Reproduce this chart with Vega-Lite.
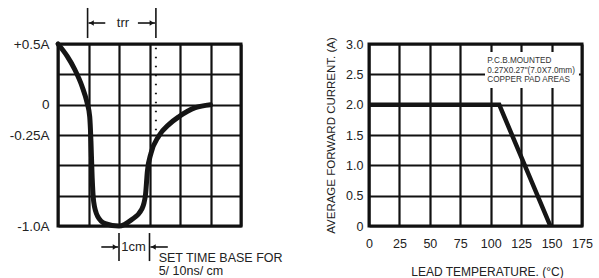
{
  "$schema": "https://vega.github.io/schema/vega-lite/v6.json",
  "background": "white",
  "padding": {"left": 7, "top": 5, "right": 0, "bottom": 0},
  "bounds": "flush",
  "spacing": 128,
  "config": {
    "view": {"stroke": "#111", "strokeWidth": 3},
    "font": "Liberation Sans",
    "axis": {"domain": false, "ticks": false, "tickCount": 30, "gridColor": "#111", "gridWidth": 2.2, "gridOpacity": 1, "labelColor": "#222", "titleColor": "#222", "labelFont": "Liberation Sans", "titleFont": "Liberation Sans", "titleFontWeight": "normal", "labelOverlap": false, "labelFlush": false}
  },
  "datasets": {
    "curve": [
      {"t": 0, "i": 0.5}, {"t": 0.3, "i": 0.4}, {"t": 0.55, "i": 0.29}, {"t": 0.79, "i": 0.15}, {"t": 0.95, "i": 0.02}, {"t": 1.04, "i": -0.1}, {"t": 1.08, "i": -0.3}, {"t": 1.12, "i": -0.6}, {"t": 1.17, "i": -0.8}, {"t": 1.3, "i": -0.92}, {"t": 1.55, "i": -0.98}, {"t": 2.0, "i": -1.0}, {"t": 2.4, "i": -0.95}, {"t": 2.75, "i": -0.86}, {"t": 2.87, "i": -0.74}, {"t": 2.93, "i": -0.55}, {"t": 3.05, "i": -0.4}, {"t": 3.3, "i": -0.26}, {"t": 3.65, "i": -0.16}, {"t": 3.96, "i": -0.1}, {"t": 4.5, "i": -0.025}, {"t": 5.0, "i": 0}
    ],
    "segs": [
      {"x": 0.97, "x2": 0.97, "y": 0.797, "y2": 0.549},
      {"x": 3.21, "x2": 3.21, "y": 0.797, "y2": 0.549},
      {"x": 1.0, "x2": 1.55, "y": 0.673, "y2": 0.673},
      {"x": 2.62, "x2": 3.18, "y": 0.673, "y2": 0.673},
      {"x": 2.0, "x2": 2.0, "y": -1.058, "y2": -1.289},
      {"x": 3.0, "x2": 3.0, "y": -1.058, "y2": -1.289},
      {"x": 1.42, "x2": 1.97, "y": -1.173, "y2": -1.173},
      {"x": 3.03, "x2": 3.6, "y": -1.173, "y2": -1.173}
    ],
    "heads": [
      {"x": 1.1, "y": 0.673, "dir": "left"},
      {"x": 3.08, "y": 0.673, "dir": "right"},
      {"x": 1.87, "y": -1.173, "dir": "right"},
      {"x": 3.13, "y": -1.173, "dir": "left"}
    ],
    "dotted": [{"x": 3.21, "y": 0.47, "y2": -0.22}],
    "ctext": [
      {"x": 2.13, "y": 0.673, "label": "trr"},
      {"x": 2.48, "y": -1.173, "label": "1cm"}
    ],
    "ltext": [
      {"x": 3.3, "y": -1.262, "label": "SET TIME BASE FOR"},
      {"x": 3.3, "y": -1.369, "label": "5/ 10ns/ cm"}
    ],
    "derate": [
      {"temp": 0, "amps": 2.0}, {"temp": 107, "amps": 2.0}, {"temp": 149, "amps": 0}
    ],
    "box": [{"x": 95.3, "x2": 172.5, "y": 2.868, "y2": 2.275}],
    "note": [
      {"x": 97.2, "y": 2.725, "label": "P.C.B.MOUNTED"},
      {"x": 97.2, "y": 2.56, "label": "0.27X0.27\"(7.0X7.0mm)"},
      {"x": 97.2, "y": 2.4, "label": "COPPER PAD AREAS"}
    ]
  },
  "hconcat": [
    {
      "width": 183,
      "height": 182,
      "layer": [
        {
          "data": {"name": "curve"},
          "mark": {"type": "line", "interpolate": "monotone", "strokeWidth": 5, "color": "#151515", "strokeCap": "round", "strokeJoin": "round"},
          "encoding": {
            "x": {"field": "t", "type": "quantitative", "scale": {"domain": [0, 6], "nice": false, "zero": false}, "axis": {"values": [0, 1, 2, 3, 4, 5, 6], "labels": false, "grid": true, "title": null}},
            "y": {"field": "i", "type": "quantitative", "scale": {"domain": [-1, 0.5], "nice": false, "zero": false}, "axis": {"values": [-1, -0.75, -0.5, -0.25, 0, 0.25, 0.5], "grid": true, "title": null, "labelFontSize": 13.5, "labelPadding": 9, "labelExpr": "datum.value == 0.5 ? '+0.5A' : datum.value == 0 ? '0' : datum.value == -0.25 ? '-0.25A' : datum.value == -1 ? '-1.0A' : ''"}}
          }
        },
        {
          "data": {"name": "segs"},
          "mark": {"type": "rule", "color": "#151515", "strokeWidth": 1.6},
          "encoding": {
            "x": {"field": "x", "type": "quantitative"},
            "x2": {"field": "x2"},
            "y": {"field": "y", "type": "quantitative"},
            "y2": {"field": "y2"}
          }
        },
        {
          "data": {"name": "heads"},
          "mark": {"type": "point", "filled": true, "size": 28, "opacity": 1, "color": "#151515"},
          "encoding": {
            "x": {"field": "x", "type": "quantitative"},
            "y": {"field": "y", "type": "quantitative"},
            "shape": {"field": "dir", "type": "nominal", "scale": {"domain": ["left", "right"], "range": ["triangle-left", "triangle-right"]}, "legend": null}
          }
        },
        {
          "data": {"name": "dotted"},
          "mark": {"type": "rule", "color": "#151515", "strokeWidth": 2, "strokeDash": [1.5, 7.5]},
          "encoding": {
            "x": {"field": "x", "type": "quantitative"},
            "y": {"field": "y", "type": "quantitative"},
            "y2": {"field": "y2"}
          }
        },
        {
          "data": {"name": "ctext"},
          "mark": {"type": "text", "fontSize": 13, "align": "center", "baseline": "middle", "color": "#222"},
          "encoding": {
            "x": {"field": "x", "type": "quantitative"},
            "y": {"field": "y", "type": "quantitative"},
            "text": {"field": "label"}
          }
        },
        {
          "data": {"name": "ltext"},
          "mark": {"type": "text", "fontSize": 12.5, "align": "left", "baseline": "middle", "color": "#222"},
          "encoding": {
            "x": {"field": "x", "type": "quantitative"},
            "y": {"field": "y", "type": "quantitative"},
            "text": {"field": "label"}
          }
        }
      ]
    },
    {
      "width": 213,
      "height": 182,
      "layer": [
        {
          "data": {"name": "derate"},
          "mark": {"type": "line", "strokeWidth": 4.5, "color": "#151515"},
          "encoding": {
            "x": {"field": "temp", "type": "quantitative", "scale": {"domain": [0, 175], "nice": false}, "axis": {"values": [0, 25, 50, 75, 100, 125, 150, 175], "grid": true, "labelFontSize": 12.5, "labelPadding": 11, "title": "LEAD TEMPERATURE. (°C)", "titleFontSize": 12, "titleX": 118, "titleY": 45, "titleBaseline": "middle"}},
            "y": {"field": "amps", "type": "quantitative", "scale": {"domain": [0, 3], "nice": false}, "axis": {"values": [0, 0.5, 1, 1.5, 2, 2.5, 3], "grid": true, "labelFontSize": 12.5, "labelPadding": 6, "labelExpr": "datum.value == 0 ? '0' : format(datum.value, '.1f')", "title": "AVERAGE FORWARD CURRENT. (A)", "titleFontSize": 11.5, "titlePadding": 9}}
          }
        },
        {
          "data": {"name": "box"},
          "mark": {"type": "rect", "color": "white", "opacity": 1},
          "encoding": {
            "x": {"field": "x", "type": "quantitative"},
            "x2": {"field": "x2"},
            "y": {"field": "y", "type": "quantitative"},
            "y2": {"field": "y2"}
          }
        },
        {
          "data": {"name": "note"},
          "mark": {"type": "text", "fontSize": 8.2, "align": "left", "baseline": "middle", "color": "#333"},
          "encoding": {
            "x": {"field": "x", "type": "quantitative"},
            "y": {"field": "y", "type": "quantitative"},
            "text": {"field": "label"}
          }
        }
      ]
    }
  ]
}
